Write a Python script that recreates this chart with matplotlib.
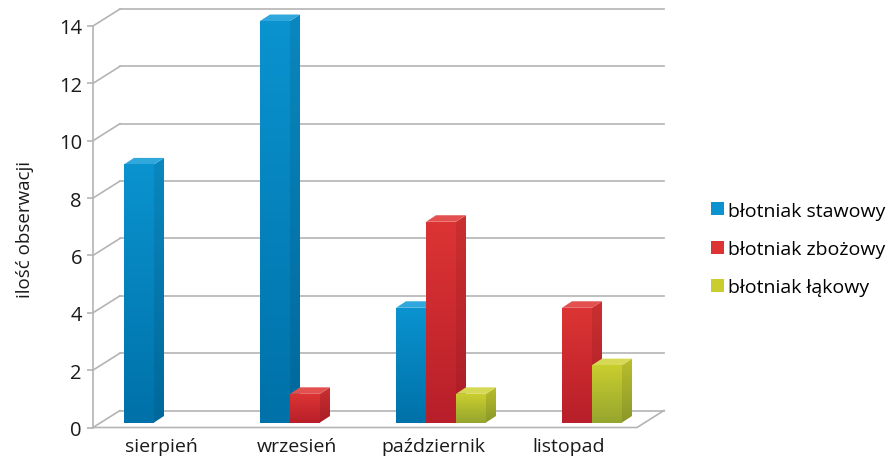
import numpy as np
import matplotlib.pyplot as plt
from matplotlib.patches import Polygon, Patch
from matplotlib.colors import to_rgb

plt.rcParams['font.family'] = ['Open Sans', 'DejaVu Sans']

# observations per month
months = ['sierpień', 'wrzesień', 'październik', 'listopad']
species = ['błotniak stawowy', 'błotniak zbożowy', 'błotniak łąkowy']
stawowy = [9, 14, 4, 0]
zbozowy = [0, 1, 7, 4]
lakowy = [0, 0, 1, 2]
yticks = [0, 2, 4, 6, 8, 10, 12, 14]

# (top of front face, bottom of front face, top face)
palette = [
    ('#0a93cf', '#0071a9', '#30a8dc'),
    ('#dc3434', '#b81f2a', '#e35050'),
    ('#c9ce2e', '#96a52e', '#d6d955'),
]
side_shade = 0.92

W, H = 891, 460
fig = plt.figure(figsize=(W / 100, H / 100), dpi=100)
left, right, y0, ytop = 93, 637, 428.5, 27
ax = fig.add_axes([left / W, (H - y0) / H, (right - left) / W, (y0 - ytop) / H])
xmin, xmax, ymax = -0.5, len(months) - 0.5, 14
PX = (right - left) / (xmax - xmin)
PY = (y0 - ytop) / ymax


def px(dx, dy):
    return dx / PX, dy / PY


grid_c = '#b4b4b4'
fdx, fdy = px(27, 17)

# back wall gridlines and their slanted links to the value axis
for v in yticks:
    ax.plot([xmin + fdx, xmax + fdx], [v + fdy, v + fdy], color=grid_c, lw=1.2,
            clip_on=False, zorder=1)
    ax.plot([xmin, xmin + fdx], [v, v + fdy], color=grid_c, lw=1.2,
            clip_on=False, zorder=1)
# floor
ax.plot([xmin, xmax, xmax + fdx], [0, 0, fdy], color=grid_c, lw=1.2,
        clip_on=False, zorder=1)


def shade(c, k):
    return tuple(np.clip(np.array(to_rgb(c)) * k, 0, 1))


def face(verts, c_top, c_bot, z):
    poly = Polygon(verts, closed=True, facecolor='none', edgecolor='none')
    ax.add_patch(poly)
    xs, ys = zip(*verts)
    g = np.linspace(0, 1, 64)[:, None, None]
    img = np.array(to_rgb(c_top)) * (1 - g) + np.array(to_rgb(c_bot)) * g
    im = ax.imshow(img, extent=(min(xs), max(xs), min(ys), max(ys)),
                   origin='upper', aspect='auto', interpolation='bilinear',
                   zorder=z)
    im.set_clip_path(poly)
    im.set_clip_box(fig.bbox)


bw = 30 / PX
ox, oy = px(8, 5)        # front face sits a little into the floor
bdx, bdy = px(10, 6.5)   # bar depth
series = [stawowy, zbozowy, lakowy]

for ci in range(len(months)):
    for si, vals in enumerate(series):
        v = vals[ci]
        if v == 0:
            continue
        top_c, bot_c, lid_c = palette[si]
        x0 = ci + (si - 1.5) * bw + ox
        x1 = x0 + bw
        b, t = oy, v + oy
        z = 3 + ci * 3 + si
        face([(x1, b), (x1, t), (x1 + bdx, t + bdy), (x1 + bdx, b + bdy)],
             shade(top_c, side_shade), shade(bot_c, side_shade), z)
        face([(x0, t), (x1, t), (x1 + bdx, t + bdy), (x0 + bdx, t + bdy)],
             lid_c, lid_c, z)
        face([(x0, b), (x1, b), (x1, t), (x0, t)], top_c, bot_c, z)

ax.set_xlim(xmin, xmax)
ax.set_ylim(0, ymax)
ax.set_xticks(range(len(months)))
ax.set_xticklabels(months, fontsize=14)
ax.set_yticks(yticks)
ax.tick_params(axis='x', length=0, pad=7, colors='#1a1a1a')
ax.tick_params(axis='y', length=4, width=1.2, color=grid_c, pad=4,
               labelsize=14.5, labelcolor='#1a1a1a')
for s in ['top', 'right', 'bottom']:
    ax.spines[s].set_visible(False)
ax.spines['left'].set_color(grid_c)
ax.spines['left'].set_linewidth(1.2)
ax.patch.set_visible(False)

fig.text(25 / W, 1 - 230 / H, 'ilość obserwacji', rotation=90, fontsize=13.5,
         ha='center', va='center', color='#1a1a1a')

handles = [Patch(facecolor=p[0], edgecolor='none') for p in palette]
fig.legend(handles, species, loc='center left', bbox_to_anchor=(711 / W, 1 - 250 / H),
           frameon=False, fontsize=14, handlelength=0.65, handleheight=0.65,
           handletextpad=0.25, labelspacing=1.05, borderpad=0, borderaxespad=0)

fig.savefig('out.png', dpi=100)
